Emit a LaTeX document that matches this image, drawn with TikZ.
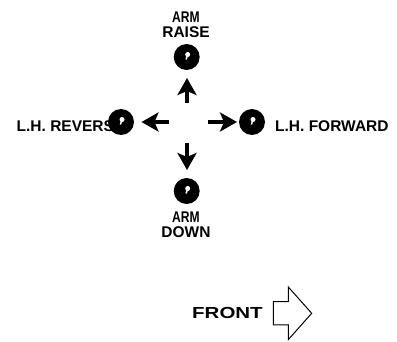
\documentclass[tikz,border=0pt]{standalone}
\usepackage{fontspec}
\setmainfont{Liberation Sans}
\usetikzlibrary{arrows.meta}
\begin{document}
\begin{tikzpicture}[x=1pt,y=-1pt,
  lbl/.style={font=\bfseries\fontsize{15.5}{15}\selectfont, inner sep=0pt},
  knob/.style={circle, fill=black, minimum size=26pt, inner sep=0pt},
  bigarrow/.style={line width=4pt, -{Stealth[length=17pt,width=19pt,inset=4pt]}},
]
\useasboundingbox (0,0) rectangle (397,342);
% labels
\node[lbl, align=center, anchor=north] (traise) at (186,12) {\scalebox{0.78}[1]{ARM}\\RAISE};
\node[lbl, align=center, anchor=north] (tdown) at (186,212) {\scalebox{0.78}[1]{ARM}\\DOWN};
\node[lbl, anchor=base west] (trev) at (16.5,131.5) {L.H. REVERS};
\node[lbl, anchor=base west] (tfwd) at (275,131.5) {L.H. FORWARD};
\node[lbl, font=\bfseries\fontsize{16}{16}\selectfont, anchor=base west] (tfront) at (192,319) {\scalebox{1.28}[1]{FRONT}};
% knobs
\node[knob] (kt) at (186.7,57) {};
\node[knob] (kb) at (186.7,191) {};
\node[knob] (kl) at (121,122) {};
\node[knob] (kr) at (252,122) {};
\foreach \k in {kt,kb,kl,kr}{
  \fill[white] ([shift={(1,-2.5)}]\k.center) circle (2.5pt);
  \draw[white, line width=1.5pt] ([shift={(1,-2.5)}]\k.center) -- ([shift={(-0.6,2.5)}]\k.center);
}
% arrows
\coordinate (aus) at (187,103.5);
\coordinate (aue) at (187,78);
\coordinate (ads) at (187,143);
\coordinate (ade) at (187,170);
\coordinate (als) at (168.5,122);
\coordinate (ale) at (141.5,122);
\coordinate (ars) at (208,122);
\coordinate (are) at (237,122);
\draw[bigarrow] (aus) -- (aue);
\draw[bigarrow] (ads) -- (ade);
\draw[bigarrow] (als) -- (ale);
\draw[bigarrow] (ars) -- (are);
% FRONT outline arrow
\draw[line width=1pt, line join=miter] (273.3,301.7) -- (288.3,301.7) -- (288.3,287) -- (311.7,313.3) -- (288.3,339.6) -- (288.3,325) -- (273.3,325) -- cycle;
\end{tikzpicture}
\end{document}
